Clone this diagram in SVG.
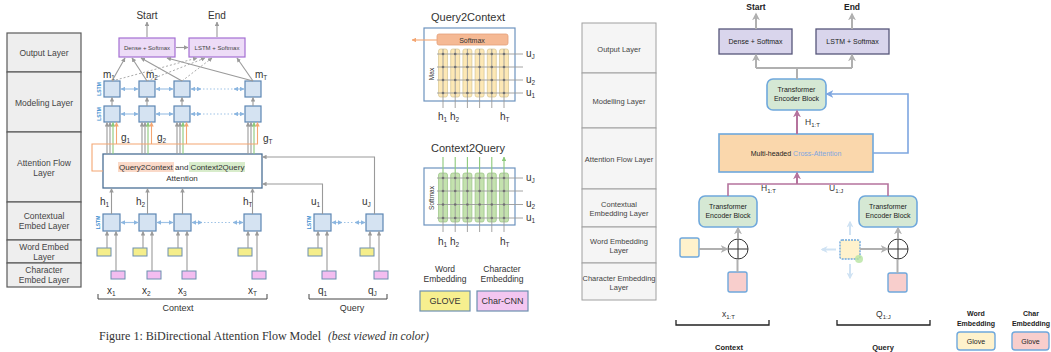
<svg xmlns="http://www.w3.org/2000/svg" width="1051" height="352" viewBox="0 0 1051 352">
<style>
text{font-family:"Liberation Sans",Arial,sans-serif;fill:#333}
.lay{fill:#eeeeee;stroke:#5a5a5a;stroke-width:1.2}
.lt{font-size:8.5px;text-anchor:middle;fill:#444}
.rlay{fill:#f5f5f5;stroke:#a0a0a0;stroke-width:1}
.rlt{font-size:7.5px;text-anchor:middle;fill:#444}
.cell{fill:#d5e3f2;stroke:#5d86b3;stroke-width:1.2}
.pbox{fill:#eddcf7;stroke:#a46fd2;stroke-width:1.2}
.tiny{font-size:6px;text-anchor:middle;fill:#444}
.ylw{fill:#f5ee8b;stroke:#6d8fb0;stroke-width:1}
.pnk{fill:#f3bdf0;stroke:#6d8fb0;stroke-width:1}
.g{stroke:#9a9a9a;stroke-width:1.1;fill:none;marker-end:url(#ag)}
.gl{stroke:#9a9a9a;stroke-width:1.1;fill:none}
.gd{stroke:#aaaaaa;stroke-width:1;fill:none;stroke-dasharray:2 2;marker-end:url(#ag)}
.bl{stroke:#9fc3e6;stroke-width:1.2;fill:none;marker-start:url(#ab);marker-end:url(#ab)}
.bld{stroke:#9fc3e6;stroke-width:1.2;fill:none;stroke-dasharray:1.5 2}
.or{stroke:#f4a672;stroke-width:1.1;fill:none;marker-end:url(#ao)}
.orl{stroke:#f4a672;stroke-width:1.1;fill:none}
.gr{stroke:#8cc97a;stroke-width:1.1;fill:none;marker-end:url(#agr)}
.var{font-size:10px;fill:#333}
.sub{font-size:6.5px}
.lstm{font-size:5px;fill:#3d8ed0;text-anchor:middle;font-weight:bold}
.grid{stroke:#9a9a9a;stroke-width:0.9;fill:none}
.dot{fill:#707070}
.rg{stroke:#b0b0b0;stroke-width:2;fill:none}
.rga{stroke:#b0b0b0;stroke-width:2;fill:none;marker-end:url(#agb)}
.rp{stroke:#b5739d;stroke-width:1.6;fill:none}
.rpa{stroke:#b5739d;stroke-width:2;fill:none;marker-end:url(#apb)}
.rb{stroke:#7ea6e0;stroke-width:1.6;fill:none;marker-end:url(#abb)}
.tenc{fill:#d5e8d4;stroke:#6fa8dc;stroke-width:1.6}
.rbox{fill:#d9d5ec;stroke:#56567a;stroke-width:1.3}
.rt{font-size:7px;text-anchor:middle;fill:#222}
.rbold{font-size:8.5px;font-weight:bold;text-anchor:middle;fill:#222}
.ry{fill:#fff2cc;stroke:#6fa8dc;stroke-width:1.4}
.rpk{fill:#f8cecc;stroke:#6fa8dc;stroke-width:1.4}
</style>
<defs>
<marker id="ag" viewBox="0 0 10 10" refX="9" refY="5" markerWidth="4.5" markerHeight="4.5" markerUnits="userSpaceOnUse" orient="auto-start-reverse"><path d="M0,0 L10,5 L0,10 z" fill="#9a9a9a"/></marker>
<marker id="ab" viewBox="0 0 10 10" refX="9" refY="5" markerWidth="4.5" markerHeight="4.5" markerUnits="userSpaceOnUse" orient="auto-start-reverse"><path d="M0,0 L10,5 L0,10 z" fill="#8bb6e0"/></marker>
<marker id="ao" viewBox="0 0 10 10" refX="9" refY="5" markerWidth="4.5" markerHeight="4.5" markerUnits="userSpaceOnUse" orient="auto-start-reverse"><path d="M0,0 L10,5 L0,10 z" fill="#f4a672"/></marker>
<marker id="agr" viewBox="0 0 10 10" refX="9" refY="5" markerWidth="4.5" markerHeight="4.5" markerUnits="userSpaceOnUse" orient="auto-start-reverse"><path d="M0,0 L10,5 L0,10 z" fill="#8cc97a"/></marker>
<marker id="agb" viewBox="0 0 10 10" refX="8" refY="5" markerWidth="8" markerHeight="8" markerUnits="userSpaceOnUse" orient="auto"><path d="M0,0 L10,5 L0,10 L3,5 z" fill="#b0b0b0"/></marker>
<marker id="apb" viewBox="0 0 10 10" refX="8" refY="5" markerWidth="8" markerHeight="8" markerUnits="userSpaceOnUse" orient="auto"><path d="M0,0 L10,5 L0,10 L3,5 z" fill="#b5739d"/></marker>
<marker id="abb" viewBox="0 0 10 10" refX="8" refY="5" markerWidth="8" markerHeight="8" markerUnits="userSpaceOnUse" orient="auto"><path d="M0,0 L10,5 L0,10 L3,5 z" fill="#7ea6e0"/></marker>
<marker id="alb" viewBox="0 0 10 10" refX="8" refY="5" markerWidth="7" markerHeight="7" markerUnits="userSpaceOnUse" orient="auto"><path d="M0,0 L10,5 L0,10 L3,5 z" fill="#cfe2f3"/></marker>
<g id="dotrow">
<circle class="dot" cx="443" cy="0" r="1.3"/><circle class="dot" cx="455.2" cy="0" r="1.3"/><circle class="dot" cx="467.4" cy="0" r="1.3"/><circle class="dot" cx="479.6" cy="0" r="1.3"/><circle class="dot" cx="491.8" cy="0" r="1.3"/><circle class="dot" cx="504" cy="0" r="1.3"/>
</g>
</defs>
<rect width="1051" height="352" fill="#ffffff"/>

<!-- BiDAF layer table -->
<g id="bidaf-layers">
<rect class="lay" x="7" y="33" width="74" height="39"/>
<rect class="lay" x="7" y="72" width="74" height="60"/>
<rect class="lay" x="7" y="132" width="74" height="70"/>
<rect class="lay" x="7" y="202" width="74" height="38"/>
<rect class="lay" x="7" y="240" width="74" height="23"/>
<rect class="lay" x="7" y="263" width="74" height="24"/>
<text class="lt" x="44" y="56">Output Layer</text>
<text class="lt" x="44" y="106">Modeling Layer</text>
<text class="lt" x="44" y="166">Attention Flow</text>
<text class="lt" x="44" y="176">Layer</text>
<text class="lt" x="44" y="219">Contextual</text>
<text class="lt" x="44" y="229">Embed Layer</text>
<text class="lt" x="44" y="250">Word Embed</text>
<text class="lt" x="44" y="260">Layer</text>
<text class="lt" x="44" y="273">Character</text>
<text class="lt" x="44" y="283">Embed Layer</text>
</g>

<!-- BiDAF output -->
<g id="bidaf-output">
<text x="147" y="19" font-size="10" text-anchor="middle">Start</text>
<text x="217" y="19" font-size="10" text-anchor="middle">End</text>
<rect class="pbox" x="119" y="38" width="56" height="19"/>
<text class="tiny" x="147" y="49.5">Dense + Softmax</text>
<rect class="pbox" x="189" y="38" width="56" height="19"/>
<text class="tiny" x="217" y="49.5">LSTM + Softmax</text>
</g>

<!-- BiDAF cells -->
<g id="bidaf-modeling">
<rect class="cell" x="104" y="81" width="16" height="16"/>
<rect class="cell" x="139" y="81" width="16" height="16"/>
<rect class="cell" x="174" y="81" width="16" height="16"/>
<rect class="cell" x="245" y="81" width="16" height="16"/>
<rect class="cell" x="104" y="106" width="16" height="16"/>
<rect class="cell" x="139" y="106" width="16" height="16"/>
<rect class="cell" x="174" y="106" width="16" height="16"/>
<rect class="cell" x="245" y="106" width="16" height="16"/>
<text class="lstm" transform="translate(99,89) rotate(-90)" y="2">LSTM</text>
<text class="lstm" transform="translate(99,114) rotate(-90)" y="2">LSTM</text>
<text class="var" x="103" y="78">m<tspan class="sub" dy="2">1</tspan></text>
<text class="var" x="146" y="78">m<tspan class="sub" dy="2">2</tspan></text>
<text class="var" x="255" y="78">m<tspan class="sub" dy="2">T</tspan></text>
<text class="var" x="121" y="141">g<tspan class="sub" dy="2">1</tspan></text>
<text class="var" x="157" y="141">g<tspan class="sub" dy="2">2</tspan></text>
<text class="var" x="263" y="142">g<tspan class="sub" dy="2">T</tspan></text>
</g>

<g id="bidaf-attention">
<rect x="103" y="154" width="159" height="34" fill="#ffffff" stroke="#4a6f95" stroke-width="1.3"/>
<rect x="118" y="162" width="56" height="10" fill="#fad9c8"/>
<rect x="189" y="162" width="56" height="10" fill="#d8eccb"/>
<text x="119" y="169.5" font-size="8">Query2Context and Context2Query</text>
<text x="182" y="181" font-size="8" text-anchor="middle">Attention</text>
</g>

<g id="bidaf-contextual">
<rect class="cell" x="103" y="214" width="17" height="17"/>
<rect class="cell" x="139" y="214" width="17" height="17"/>
<rect class="cell" x="174" y="214" width="17" height="17"/>
<rect class="cell" x="244" y="214" width="17" height="17"/>
<rect class="cell" x="314" y="214" width="17" height="17"/>
<rect class="cell" x="366" y="214" width="17" height="17"/>
<text class="lstm" transform="translate(98,222.5) rotate(-90)" y="2">LSTM</text>
<text class="lstm" transform="translate(309,222.5) rotate(-90)" y="2">LSTM</text>
<text class="var" x="100" y="205">h<tspan class="sub" dy="2">1</tspan></text>
<text class="var" x="136" y="205">h<tspan class="sub" dy="2">2</tspan></text>
<text class="var" x="243" y="205">h<tspan class="sub" dy="2">T</tspan></text>
<text class="var" x="311" y="205">u<tspan class="sub" dy="2">1</tspan></text>
<text class="var" x="362" y="205">u<tspan class="sub" dy="2">J</tspan></text>
</g>

<g id="bidaf-embeddings">
<rect class="ylw" x="97" y="248" width="14" height="8"/>
<rect class="ylw" x="133" y="248" width="14" height="8"/>
<rect class="ylw" x="168" y="248" width="14" height="8"/>
<rect class="ylw" x="238" y="248" width="14" height="8"/>
<rect class="ylw" x="308" y="248" width="14" height="8"/>
<rect class="ylw" x="360" y="248" width="14" height="8"/>
<rect class="pnk" x="111" y="271" width="14" height="8"/>
<rect class="pnk" x="147" y="271" width="14" height="8"/>
<rect class="pnk" x="182" y="271" width="14" height="8"/>
<rect class="pnk" x="252" y="271" width="14" height="8"/>
<rect class="pnk" x="322" y="271" width="14" height="8"/>
<rect class="pnk" x="374" y="271" width="14" height="8"/>
<text class="var" x="107" y="294">x<tspan class="sub" dy="2">1</tspan></text>
<text class="var" x="142" y="294">x<tspan class="sub" dy="2">2</tspan></text>
<text class="var" x="178" y="294">x<tspan class="sub" dy="2">3</tspan></text>
<text class="var" x="248" y="294">x<tspan class="sub" dy="2">T</tspan></text>
<text class="var" x="318" y="294">q<tspan class="sub" dy="2">1</tspan></text>
<text class="var" x="368" y="294">q<tspan class="sub" dy="2">J</tspan></text>
<path d="M98,294 V299 H267 V294" fill="none" stroke="#444" stroke-width="1"/>
<path d="M309,294 V299 H387 V294" fill="none" stroke="#444" stroke-width="1"/>
<text x="178" y="311" font-size="9" text-anchor="middle" fill="#444">Context</text>
<text x="352" y="311" font-size="9" text-anchor="middle" fill="#444">Query</text>
</g>

<!-- BiDAF connectors -->
<g id="bidaf-connectors">
<path class="g" d="M147,37 V22"/>
<path class="g" d="M217,37 V22"/>
<path class="g" d="M176,47.5 H188"/>
<!-- modeling outputs to softmax layers -->
<path class="g" d="M112,81 L125,58"/>
<path class="g" d="M147,81 L132,58"/>
<path class="g" d="M182,81 L141,58"/>
<path class="g" d="M253,81 L167,58"/>
<path class="g" d="M253,81 L237,58"/>
<path class="gd" d="M112,81 L197,58"/>
<path class="gd" d="M147,81 L205,58"/>
<path class="gd" d="M182,81 L212,58"/>
<!-- bidirectional links -->
<path class="bl" d="M121,89 H138"/>
<path class="bl" d="M156,89 H173"/>
<path class="bl" d="M191,89 H201"/>
<path class="bld" d="M203,89 H233"/>
<path class="bl" d="M234,89 H244"/>
<path class="bl" d="M121,114 H138"/>
<path class="bl" d="M156,114 H173"/>
<path class="bl" d="M191,114 H201"/>
<path class="bld" d="M203,114 H233"/>
<path class="bl" d="M234,114 H244"/>
<path class="bl" d="M121,222.5 H138"/>
<path class="bl" d="M157,222.5 H173"/>
<path class="bl" d="M192,222.5 H202"/>
<path class="bld" d="M204,222.5 H232"/>
<path class="bl" d="M233,222.5 H243"/>
<path class="bl" d="M332,222.5 H342"/>
<path class="bld" d="M344,222.5 H354"/>
<path class="bl" d="M355,222.5 H365"/>
<!-- lower to upper modeling -->
<path class="g" d="M112,106 V97.5"/>
<path class="g" d="M147,106 V97.5"/>
<path class="g" d="M182,106 V97.5"/>
<path class="g" d="M253,106 V97.5"/>
<!-- attention outputs g -->
<path class="g" d="M107,154 V122.5"/><path class="g" d="M110,154 V122.5"/><path class="gr" d="M113,154 V122.5"/><path class="or" d="M116.5,144 V122.5"/>
<path class="g" d="M142,154 V122.5"/><path class="g" d="M145,154 V122.5"/><path class="gr" d="M148,154 V122.5"/><path class="or" d="M151.5,144 V122.5"/>
<path class="g" d="M177,154 V122.5"/><path class="g" d="M180,154 V122.5"/><path class="gr" d="M183,154 V122.5"/><path class="or" d="M186.5,144 V122.5"/>
<path class="g" d="M248,154 V122.5"/><path class="g" d="M251,154 V122.5"/><path class="gr" d="M254,154 V122.5"/><path class="or" d="M257.5,144 V122.5"/>
<path class="orl" d="M103,171 H92 V144 H258"/>
<!-- contextual to attention -->
<path class="g" d="M111.5,214 V188.5"/>
<path class="g" d="M147.5,214 V188.5"/>
<path class="g" d="M182.5,214 V188.5"/>
<path class="g" d="M252.5,214 V188.5"/>
<path class="g" d="M322.5,214 V184 H262.5"/>
<path class="g" d="M374.5,214 V157 H262.5"/>
<!-- embeddings to contextual -->
<path class="g" d="M107,248 V231.5"/><path class="g" d="M116,271 V231.5"/>
<path class="g" d="M143,248 V231.5"/><path class="g" d="M152,271 V231.5"/>
<path class="g" d="M178,248 V231.5"/><path class="g" d="M187,271 V231.5"/>
<path class="g" d="M248,248 V231.5"/><path class="g" d="M257,271 V231.5"/>
<path class="g" d="M318,248 V231.5"/><path class="g" d="M327,271 V231.5"/>
<path class="g" d="M370,248 V231.5"/><path class="g" d="M379,271 V231.5"/>
</g>

<g id="caption">
<text x="99" y="340" font-family="Liberation Serif, serif" font-size="12" textLength="222" lengthAdjust="spacingAndGlyphs" fill="#111" style="font-family:'Liberation Serif',serif">Figure 1: BiDirectional Attention Flow Model</text>
<text x="328" y="340" font-size="12" font-style="italic" textLength="101" lengthAdjust="spacingAndGlyphs" fill="#111" style="font-family:'Liberation Serif',serif">(best viewed in color)</text>
</g>

<!-- Query2Context matrix -->
<g id="query2context">
<text x="468" y="21" font-size="11" text-anchor="middle">Query2Context</text>
<rect x="424" y="28" width="91" height="73" fill="#ffffff" stroke="#6d93be" stroke-width="1.2"/>
<rect x="437" y="34" width="71" height="11" rx="2" fill="#f5b994" stroke="#e3a07a" stroke-width="0.8"/>
<text x="472" y="42.5" font-size="7" text-anchor="middle" fill="#fde6d6">Softmax</text>
<path class="or" d="M437,40 H412"/>
<g fill="#fde8b5" stroke="#d5c490" stroke-width="0.7">
<rect x="438.5" y="49" width="9" height="48" rx="2"/><rect x="450.7" y="49" width="9" height="48" rx="2"/><rect x="462.9" y="49" width="9" height="48" rx="2"/><rect x="475.1" y="49" width="9" height="48" rx="2"/><rect x="487.3" y="49" width="9" height="48" rx="2"/><rect x="499.5" y="49" width="9" height="48" rx="2"/>
</g>
<path class="grid" d="M437,54H523M437,67H523M437,80H523M437,93H523M443,49V108M455.2,49V108M467.4,49V108M479.6,49V108M491.8,49V108M504,49V108"/>
<use href="#dotrow" y="54"/><use href="#dotrow" y="67"/><use href="#dotrow" y="80"/><use href="#dotrow" y="93"/>
<text x="432" y="74" font-size="6.5" fill="#999" text-anchor="middle" transform="rotate(-90 432 74)" dy="2">Max</text>
<text class="var" x="526" y="57" font-size="9">u<tspan class="sub" dy="2">J</tspan></text>
<text class="var" x="526" y="83" font-size="9">u<tspan class="sub" dy="2">2</tspan></text>
<text class="var" x="526" y="96" font-size="9">u<tspan class="sub" dy="2">1</tspan></text>
<text class="var" x="438" y="120" font-size="9">h<tspan class="sub" dy="2">1</tspan></text>
<text class="var" x="450" y="120" font-size="9">h<tspan class="sub" dy="2">2</tspan></text>
<text class="var" x="500" y="120" font-size="9">h<tspan class="sub" dy="2">T</tspan></text>
</g>

<!-- Context2Query matrix -->
<g id="context2query">
<text x="468" y="152" font-size="11" text-anchor="middle">Context2Query</text>
<rect x="424" y="168" width="91" height="57" fill="#ffffff" stroke="#6d93be" stroke-width="1.2"/>
<path class="gr" d="M443,173V157M455.2,173V157M467.4,173V157M479.6,173V157M491.8,173V157M504,173V157"/>
<g fill="#c4e2ae" stroke="#98c283" stroke-width="0.7">
<rect x="438.5" y="173" width="9" height="49" rx="2"/><rect x="450.7" y="173" width="9" height="49" rx="2"/><rect x="462.9" y="173" width="9" height="49" rx="2"/><rect x="475.1" y="173" width="9" height="49" rx="2"/><rect x="487.3" y="173" width="9" height="49" rx="2"/><rect x="499.5" y="173" width="9" height="49" rx="2"/>
</g>
<path class="grid" d="M437,178H523M437,191H523M437,204.5H523M437,218H523M443,173V232M455.2,173V232M467.4,173V232M479.6,173V232M491.8,173V232M504,173V232"/>
<use href="#dotrow" y="178"/><use href="#dotrow" y="191"/><use href="#dotrow" y="204.5"/><use href="#dotrow" y="218"/>
<text x="432" y="198" font-size="6.5" fill="#8cc07a" text-anchor="middle" transform="rotate(-90 432 198)" dy="2">Softmax</text>
<text class="var" x="526" y="181" font-size="9">u<tspan class="sub" dy="2">J</tspan></text>
<text class="var" x="526" y="207" font-size="9">u<tspan class="sub" dy="2">2</tspan></text>
<text class="var" x="526" y="221" font-size="9">u<tspan class="sub" dy="2">1</tspan></text>
<text class="var" x="438" y="245" font-size="9">h<tspan class="sub" dy="2">1</tspan></text>
<text class="var" x="450" y="245" font-size="9">h<tspan class="sub" dy="2">2</tspan></text>
<text class="var" x="500" y="245" font-size="9">h<tspan class="sub" dy="2">T</tspan></text>
</g>

<!-- embedding legend -->
<g id="bidaf-legend">
<text x="445" y="272" font-size="8.5" text-anchor="middle" fill="#444">Word</text>
<text x="445" y="282" font-size="8.5" text-anchor="middle" fill="#444">Embedding</text>
<text x="502" y="272" font-size="8.5" text-anchor="middle" fill="#444">Character</text>
<text x="502" y="282" font-size="8.5" text-anchor="middle" fill="#444">Embedding</text>
<rect x="420" y="291" width="50" height="20" fill="#f7ef8f" stroke="#6d8fb0" stroke-width="1.2"/>
<text x="445" y="304" font-size="9" text-anchor="middle" fill="#333">GLOVE</text>
<rect x="477" y="291" width="51" height="20" fill="#f3c6f0" stroke="#6d8fb0" stroke-width="1.2"/>
<text x="502.5" y="304" font-size="9" text-anchor="middle" fill="#333">Char-CNN</text>
</g>

<!-- Transformer variant: layer table -->
<g id="tf-layers">
<rect class="rlay" x="582" y="23" width="74" height="50"/>
<rect class="rlay" x="582" y="73" width="74" height="55"/>
<rect class="rlay" x="582" y="128" width="74" height="61"/>
<rect class="rlay" x="582" y="189" width="74" height="38"/>
<rect class="rlay" x="582" y="227" width="74" height="36"/>
<rect class="rlay" x="582" y="263" width="74" height="37"/>
<text class="rlt" x="619" y="51.5">Output Layer</text>
<text class="rlt" x="619" y="103.5">Modelling Layer</text>
<text class="rlt" x="619" y="161.5">Attention Flow Layer</text>
<text class="rlt" x="619" y="206.5">Contextual</text>
<text class="rlt" x="619" y="215.5">Embedding Layer</text>
<text class="rlt" x="619" y="243.5">Word Embedding</text>
<text class="rlt" x="619" y="252.5">Layer</text>
<text class="rlt" x="619" y="280.5">Character Embedding</text>
<text class="rlt" x="619" y="289.5">Layer</text>
</g>

<g id="tf-output">
<text class="rbold" x="756" y="10">Start</text>
<text class="rbold" x="852" y="10">End</text>
<rect class="rbox" x="719" y="29" width="73" height="25"/>
<text class="rt" x="755.5" y="44">Dense + Softmax</text>
<rect class="rbox" x="816" y="29" width="73" height="25"/>
<text class="rt" x="852.5" y="44">LSTM + Softmax</text>
</g>

<g id="tf-model-encoder">
<rect class="tenc" x="767" y="79" width="59" height="31" rx="6"/>
<text class="rt" x="796.5" y="92">Transformer</text>
<text class="rt" x="796.5" y="101">Encoder Block</text>
</g>

<g id="tf-cross-attention">
<rect x="719" y="134" width="154" height="38" fill="#fad7ac" stroke="#6fa8dc" stroke-width="1.6"/>
<text class="rt" x="796" y="155.5">Multi-headed <tspan fill="#7ea6e0">Cross-Attention</tspan></text>
</g>

<g id="tf-context-encoder">
<rect class="tenc" x="699" y="196" width="58" height="31" rx="6"/>
<text class="rt" x="728" y="209">Transformer</text>
<text class="rt" x="728" y="218">Encoder Block</text>
<rect class="ry" x="680" y="238" width="19" height="19" rx="2"/>
<rect class="rpk" x="728" y="272" width="19" height="20" rx="2"/>
<circle cx="738" cy="249" r="10" fill="#ffffff" stroke="#333" stroke-width="1"/>
<path d="M728,249H748M738,239V259" stroke="#333" stroke-width="1"/>
</g>

<g id="tf-query-encoder">
<rect class="tenc" x="859" y="196" width="58" height="31" rx="6"/>
<text class="rt" x="888" y="209">Transformer</text>
<text class="rt" x="888" y="218">Encoder Block</text>
<rect class="ry" x="840" y="240" width="20" height="19" rx="2" stroke-dasharray="2 1"/>
<circle cx="859" cy="259" r="4" fill="#b6e3a0" opacity="0.8"/>
<rect class="rpk" x="888" y="273" width="19" height="19" rx="2"/>
<circle cx="898" cy="249" r="10" fill="#ffffff" stroke="#333" stroke-width="1"/>
<path d="M888,249H908M898,239V259" stroke="#333" stroke-width="1"/>
<path d="M850,235V222" stroke="#cfe2f3" stroke-width="2" marker-end="url(#alb)"/>
<path d="M836,249.5H822" stroke="#cfe2f3" stroke-width="2" marker-end="url(#alb)"/>
<path d="M850,264V278" stroke="#cfe2f3" stroke-width="2" marker-end="url(#alb)"/>
</g>

<g id="tf-labels">
<text x="805" y="125" font-size="8.5">H<tspan font-size="6" dy="2">1:T</tspan></text>
<text x="761" y="191" font-size="8.5">H<tspan font-size="6" dy="2">1:T</tspan></text>
<text x="829" y="191" font-size="8.5">U<tspan font-size="6" dy="2">1:J</tspan></text>
<text x="722" y="317" font-size="8.5">x<tspan font-size="6" dy="2">1:T</tspan></text>
<text x="876" y="317" font-size="8.5">Q<tspan font-size="6" dy="2">1:J</tspan></text>
<path d="M676,320 V325 H769 V320" fill="none" stroke="#222" stroke-width="1.3"/>
<path d="M837,320 V325 H930 V320" fill="none" stroke="#222" stroke-width="1.3"/>
<text class="rbold" x="729" y="350" font-size="7.5" style="font-size:7.5px">Context</text>
<text class="rbold" x="883" y="350" style="font-size:7.5px">Query</text>
</g>

<g id="tf-legend">
<text class="rbold" x="976" y="316" style="font-size:7px">Word</text>
<text class="rbold" x="976" y="326" style="font-size:7px">Embedding</text>
<text class="rbold" x="1031" y="316" style="font-size:7px">Char</text>
<text class="rbold" x="1031" y="326" style="font-size:7px">Embedding</text>
<rect class="ry" x="957" y="332" width="38" height="18" rx="3"/>
<text class="rt" x="976" y="344">Glove</text>
<rect class="rpk" x="1012" y="332" width="37" height="18" rx="3"/>
<text class="rt" x="1030.5" y="344">Glove</text>
</g>

<!-- Transformer variant connectors -->
<g id="tf-connectors">
<path class="rga" d="M756,29 V14"/>
<path class="rga" d="M852,29 V14"/>
<path class="rg" d="M797,79 V68 M756,68 H852"/>
<path class="rga" d="M756,68 V55"/>
<path class="rga" d="M852,68 V55"/>
<path class="rpa" d="M797,134 V111"/>
<path class="rb" d="M873,153 H908 V94 H827"/>
<path class="rp" d="M728,196 V184 H888 V196"/>
<path class="rpa" d="M797,184 V173"/>
<path class="rga" d="M699,249 H727"/>
<path class="rg" d="M737.5,272 V259"/>
<path class="rga" d="M738,239 V228"/>
<path class="rga" d="M860,249 H887"/>
<path class="rg" d="M897.5,273 V259"/>
<path class="rga" d="M898,239 V228"/>
</g>
</svg>
